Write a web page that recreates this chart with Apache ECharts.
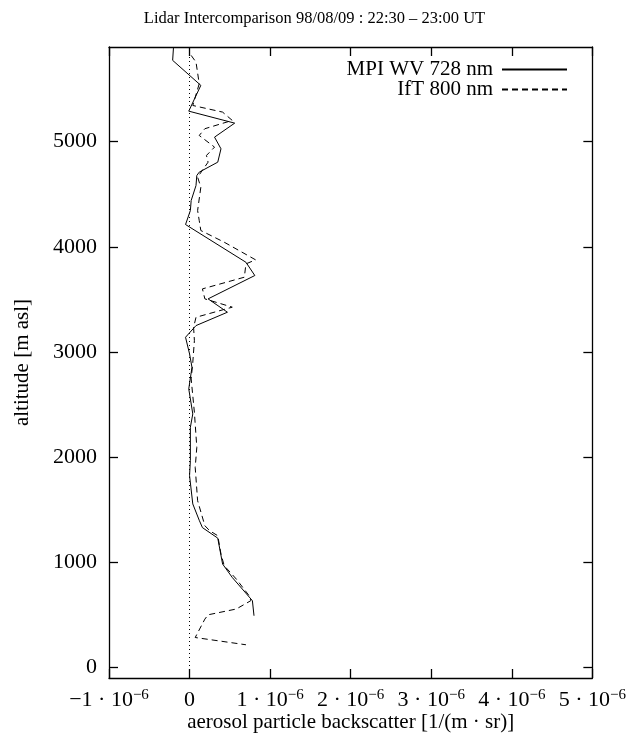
<!DOCTYPE html>
<html>
<head>
<meta charset="utf-8">
<script src="https://cdn.jsdelivr.net/npm/echarts@6/dist/echarts.min.js"></script>
<style>
  html, body { margin: 0; padding: 0; background: #fff; }
  #chart { width: 629px; height: 747px; }
</style>
</head>
<body>
<div id="chart"></div>
<script>
// Backscatter values are in units of 1e-6 1/(m sr); altitudes in m asl.
const mpiBackscatter = [-0.20, -0.21, 0.14, -0.01, 0.56, 0.31, 0.39, 0.35, 0.12, 0.09, 0.08, 0.02, 0.01, -0.05,
  0.70, 0.81, 0.23, 0.47, 0.08, -0.05, 0.00, 0.03, -0.01, 0.04, 0.01, 0.01, 0.00, 0.04, 0.12, 0.16, 0.35, 0.41,
  0.53, 0.78, 0.80];
const mpiAltitude = [5890, 5773, 5535, 5290, 5176, 5043, 4932, 4805, 4710, 4678, 4583, 4440, 4345, 4212,
  3853, 3727, 3505, 3378, 3251, 3140, 2982, 2854, 2649, 2411, 2284, 1967, 1824, 1555, 1400, 1330, 1230, 984,
  856, 635, 492];

const iftBackscatter = [0.02, 0.08, 0.12, 0.04, 0.41, 0.53, 0.19, 0.12, 0.31, 0.21, 0.23, 0.10, 0.14, 0.10,
  0.12, 0.14, 0.43, 0.82, 0.70, 0.68, 0.16, 0.19, 0.53, 0.08, 0.05, 0.06, 0.04, 0.02, 0.06, 0.09, 0.07, 0.10,
  0.19, 0.25, 0.35, 0.39, 0.43, 0.58, 0.74, 0.76, 0.58, 0.23, 0.19, 0.07, 0.70];
const iftAltitude = [5820, 5756, 5551, 5344, 5281, 5202, 5123, 5059, 4948, 4869, 4805, 4662, 4567, 4345,
  4250, 4155, 4044, 3876, 3838, 3711, 3600, 3505, 3426, 3330, 3235, 3108, 2900, 2744, 2426, 2093, 1903, 1586,
  1348, 1300, 1253, 1079, 968, 841, 682, 635, 556, 501, 460, 285, 216];

const xTicks = [-1, 0, 1, 2, 3, 4, 5];
const yTicks = [0, 1000, 2000, 3000, 4000, 5000];

const seriesNames = ['MPI WV 728 nm', 'IfT 800 nm'];
const titleText = 'Lidar Intercomparison 98/08/09 : 22:30 \u2013 23:00 UT';
const xName = 'aerosol particle backscatter [1/(m \u00b7 sr)]';
const yName = 'altitude [m asl]';

const FONT = '"Liberation Serif", "DejaVu Serif", serif';

function pairs(xs, ys) { return xs.map((x, i) => [x, ys[i]]); }

// "k · 10^-6" labels, with the exponent as a raised smaller run
function xLabel(v) {
  if (Math.abs(v) < 1e-9) return '{b|0}';
  const k = Math.round(v);
  return '{b|' + (k < 0 ? '\u2212' : '') + Math.abs(k) + ' \u00b7 10}{s|\u22126}';
}

const rich = {
  b: { fontFamily: FONT, fontSize: 22, color: '#000', lineHeight: 24 },
  s: { fontFamily: FONT, fontSize: 15, color: '#000', verticalAlign: 'top', padding: [0, 0, 12, 0], lineHeight: 16 }
};

const axisLineStyle = { color: '#000', width: 1.3 };

const legendCommon = {
  orient: 'vertical', align: 'right', right: 61, padding: 0,
  itemWidth: 65, itemHeight: 10, itemGap: 0,
  itemStyle: { opacity: 0 },
  textStyle: { fontFamily: FONT, fontSize: 21, color: '#000', padding: [0, 4, 0, 0] }
};

const chart = echarts.init(document.getElementById('chart'), null, { renderer: 'canvas' });

chart.setOption({
  animation: false,
  backgroundColor: '#fff',
  title: {
    text: titleText,
    left: 'center',
    top: 5,
    textStyle: { fontFamily: FONT, fontSize: 16.5, fontWeight: 'normal', color: '#000' }
  },
  legend: [
    Object.assign({ data: [{ name: seriesNames[0] }], top: 59 }, legendCommon),
    Object.assign({ data: [{ name: seriesNames[1] }], top: 79 }, legendCommon)
  ],
  grid: { left: 109, right: 33, top: 47, bottom: 69, containLabel: false },
  xAxis: [
    {
      type: 'value', min: -1, max: 5, interval: 1,
      name: xName, nameLocation: 'middle', nameGap: 34, nameMoveOverlap: false,
      nameTextStyle: { fontFamily: FONT, fontSize: 21, color: '#000' },
      axisLine: { show: true, onZero: false, lineStyle: axisLineStyle },
      axisTick: { show: true, inside: true, length: 9, lineStyle: axisLineStyle },
      axisLabel: { margin: 10, formatter: xLabel, rich: rich },
      splitLine: { show: false }
    },
    {
      type: 'value', min: -1, max: 5, interval: 1, position: 'top',
      axisLine: { show: true, onZero: false, lineStyle: axisLineStyle },
      axisTick: { show: true, inside: true, length: 9, lineStyle: axisLineStyle },
      axisLabel: { show: false },
      splitLine: { show: false }
    }
  ],
  yAxis: [
    {
      type: 'value', min: -100, max: 5900,
      name: yName, nameLocation: 'middle', nameGap: 76, nameRotate: 90, nameMoveOverlap: false,
      nameTextStyle: { fontFamily: FONT, fontSize: 21, color: '#000' },
      axisLine: { show: true, onZero: false, lineStyle: axisLineStyle },
      axisTick: { show: true, inside: true, length: 9, customValues: yTicks, lineStyle: axisLineStyle },
      axisLabel: {
        margin: 12, customValues: yTicks, formatter: v => String(v),
        fontFamily: FONT, fontSize: 22, color: '#000'
      },
      splitLine: { show: false }
    },
    {
      type: 'value', min: -100, max: 5900, position: 'right',
      axisLine: { show: true, onZero: false, lineStyle: axisLineStyle },
      axisTick: { show: true, inside: true, length: 9, customValues: yTicks, lineStyle: axisLineStyle },
      axisLabel: { show: false },
      splitLine: { show: false }
    }
  ],
  series: [
    {
      name: seriesNames[0],
      type: 'line',
      data: pairs(mpiBackscatter, mpiAltitude),
      symbol: 'none',
      lineStyle: { color: '#000', width: 1, type: 'solid' },
      itemStyle: { color: '#000' },
      markLine: {
        silent: true, symbol: 'none', label: { show: false },
        lineStyle: { color: '#000', width: 1, type: [1, 3] },
        data: [{ xAxis: 0 }]
      }
    },
    {
      name: seriesNames[1],
      type: 'line',
      data: pairs(iftBackscatter, iftAltitude),
      symbol: 'none',
      lineStyle: { color: '#000', width: 1, type: [6, 4] },
      itemStyle: { color: '#000' }
    }
  ]
});
</script>
</body>
</html>
